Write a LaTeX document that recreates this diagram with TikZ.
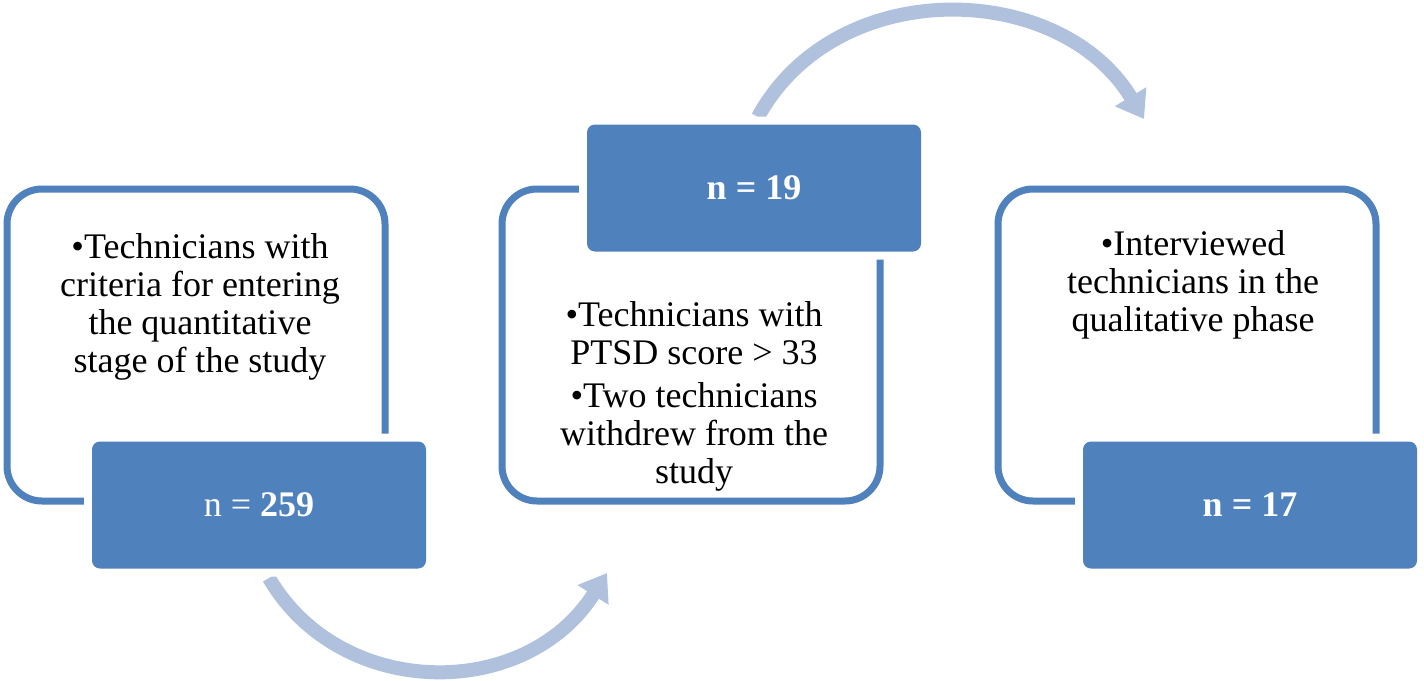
\documentclass[tikz,border=0pt]{standalone}
\usepackage{fontspec}
\setmainfont{Liberation Serif}
\usetikzlibrary{arrows.meta}
\definecolor{boxblue}{HTML}{4F81BD}
\definecolor{arrowblue}{HTML}{AFC1DD}
\begin{document}
\begin{tikzpicture}[x=1pt,y=-1pt,
  outlinebox/.style={draw=boxblue, line width=7pt, rounded corners=35pt, minimum width=378pt, minimum height=312pt, inner sep=0pt},
  filledbox/.style={fill=boxblue, rounded corners=8pt, minimum width=334pt, minimum height=127pt, inner sep=0pt,
    preaction={draw=white, line width=16pt}, text=white, font=\fontsize{36}{38}\selectfont},
  bodytext/.style={align=center, inner sep=0pt, font=\fontsize{36}{38}\selectfont},
  bigarrow/.style={draw=arrowblue, line width=14pt, -{Triangle[width=35pt,length=26pt]}}
]
\useasboundingbox[fill=white] (0,0) rectangle (1424,680);

% curved arrows
\coordinate (a1s) at (269,578);
\coordinate (a1e) at (607,573);
\coordinate (a2s) at (758,117);
\coordinate (a2e) at (1144,119);
\draw[bigarrow] (a1s) .. controls (340,700) and (525,702) .. (a1e);
\draw[bigarrow] (a2s) .. controls (836,-26) and (1060,-20) .. (a2e);

% outline boxes
\node[outlinebox] (o1) at (196,345) {};
\node[outlinebox] (o2) at (691,345) {};
\node[outlinebox] (o3) at (1187,345) {};

% text
\node[bodytext] (t1) at (200,307) {\textbullet Technicians with\\criteria for entering\\the quantitative\\stage of the study};
\node[bodytext] (t2) at (694,396) {\textbullet Technicians with\\PTSD score > 33\\[5pt]\textbullet Two technicians\\withdrew from the\\study};
\node[bodytext] (t3) at (1193,285) {\textbullet Interviewed\\technicians in the\\qualitative phase};

% filled boxes
\node[filledbox] (f1) at (259,505) {n = \textbf{259}};
\node[filledbox] (f2) at (754,188) {\textbf{n = 19}};
\node[filledbox] (f3) at (1250,505) {\textbf{n = 17}};
\end{tikzpicture}
\end{document}
